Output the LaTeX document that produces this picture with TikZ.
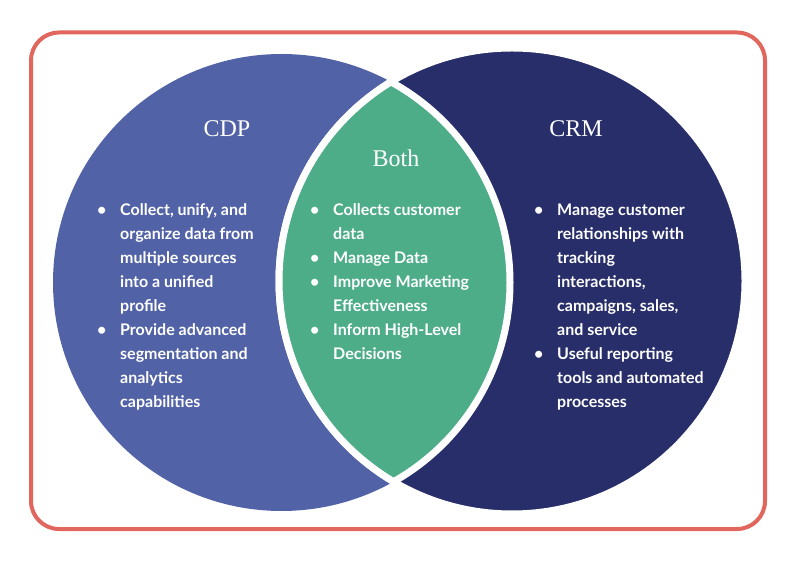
\documentclass[tikz,border=0pt]{standalone}
\usepackage{fontspec}
\setmainfont{Liberation Serif}
\newfontfamily\listfont{Lato}
\definecolor{cdpblue}{HTML}{5262A6}
\definecolor{crmnavy}{HTML}{282E69}
\definecolor{bothgreen}{HTML}{4DAD88}
\definecolor{framered}{HTML}{E0665E}

\tikzset{
  title/.style={text=white, anchor=base, inner sep=0pt, font=\fontsize{24}{28}\selectfont},
  items/.style={text=white, anchor=base west, inner sep=0pt, font=\listfont\bfseries\fontsize{16}{24}\selectfont},
  gap/.style={draw=white, line width=7pt},
}
\newcommand{\bul}{\textbullet}

\begin{document}
\begin{tikzpicture}[x=1pt, y=1pt]
			\useasboundingbox (0,0) rectangle (800,565);
			\draw[framered, line width=4pt, rounded corners=28pt] (31,36) rectangle (765,532.5);
			
			\coordinate (cdp) at (281.5,282.5);
			\coordinate (crm) at (512,284);
			
			% circles
			\fill[cdpblue] (cdp) circle[radius=228.5];
			\filldraw[fill=crmnavy, gap] (crm) circle[radius=233];
			
			% overlap
			\begin{scope}
			\clip (cdp) circle[radius=228.5];
			\fill[bothgreen] (crm) circle[radius=233];
			\draw[gap] (crm) circle[radius=233];
			\end{scope}
			\begin{scope}
			\clip (crm) circle[radius=233];
			\draw[gap] (cdp) circle[radius=228.5];
			\end{scope}
			
			\node[title] (cdptitle) at (227,428) {CDP};
			\node[title] (crmtitle) at (576,428) {CRM};
			\node[title] (bothtitle) at (396,398) {Both};
			
			\node[items] (cdplist) at (97,349.5) {\begin{tabular}[t]{@{}p{23pt}@{}l@{}}
				\bul & Collect, unify, and\\
				& organize data from\\
				& multiple sources\\
				& into a unified\\
				& profile\\
				\bul & Provide advanced\\
				& segmentation and\\
				& analytics\\
				& capabilities
			\end{tabular}};
			
			\node[items] (bothlist) at (310,349.5) {\begin{tabular}[t]{@{}p{23pt}@{}l@{}}
				\bul & Collects customer\\
				& data\\
				\bul & Manage Data\\
				\bul & Improve Marketing\\
				& Effectiveness\\
				\bul & Inform High-Level\\
				& Decisions
			\end{tabular}};
			
			\node[items] (crmlist) at (534,349.5) {\begin{tabular}[t]{@{}p{23pt}@{}l@{}}
				\bul & Manage customer\\
				& relationships with\\
				& tracking\\
				& interactions,\\
				& campaigns, sales,\\
				& and service\\
				\bul & Useful reporting\\
				& tools and automated\\
				& processes
			\end{tabular}};
\end{tikzpicture}
\end{document}
